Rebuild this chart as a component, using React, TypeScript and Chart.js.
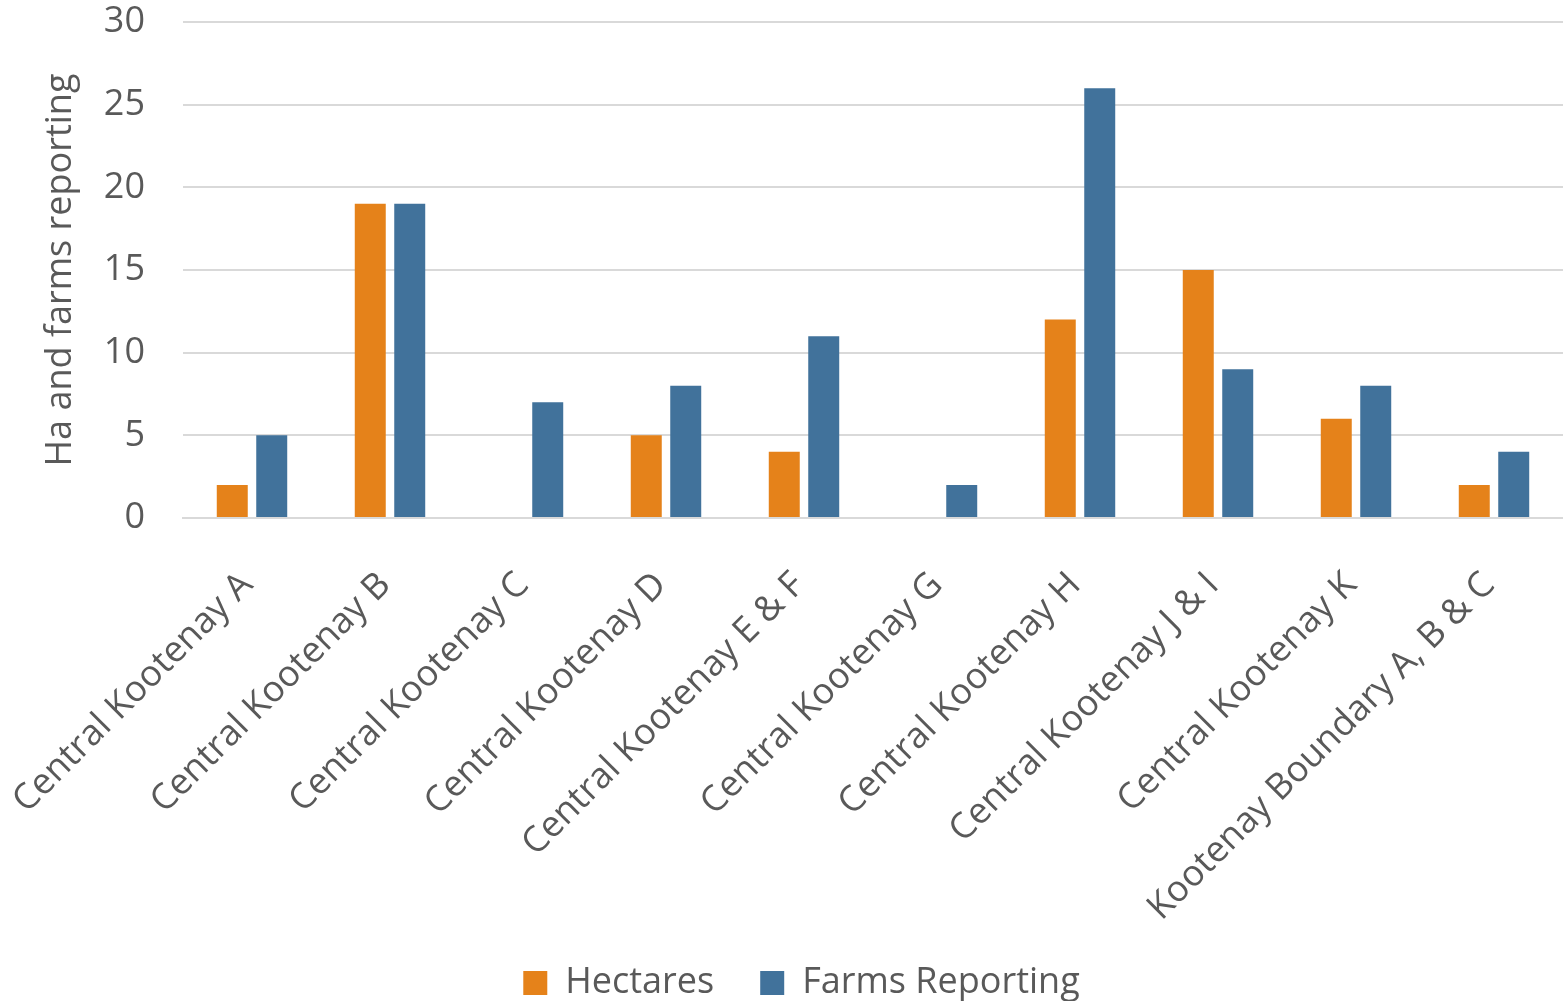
import { useEffect, useRef } from "react";
import { Chart, registerables, type ChartConfiguration, type Plugin } from "chart.js";

Chart.register(...registerables);

// data
const regions = [
  "Central Kootenay A",
  "Central Kootenay B",
  "Central Kootenay C",
  "Central Kootenay D",
  "Central Kootenay E & F",
  "Central Kootenay G",
  "Central Kootenay H",
  "Central Kootenay J & I",
  "Central Kootenay K",
  "Kootenay Boundary A, B & C",
];
const hectares = [2, 19, null, 5, 4, null, 12, 15, 6, 2];
const farmsReporting = [5, 19, 7, 8, 11, 2, 26, 9, 8, 4];
const yMin = 0;
const yMax = 30;
const yStep = 5;

const FONT = "'Open Sans', 'Noto Sans', sans-serif";
const TEXT = "#595959";
const GRID = "#D9D9D9";

// legend sits a bit right of centre in the reference; long x labels must not be clipped
const layoutTweaks: Plugin<"bar"> = {
  id: "layoutTweaks",
  afterLayout(chart) {
    if (chart.legend) chart.legend.left += 40;
    const x = chart.scales.x;
    if (x) x.bottom = chart.height;
  },
};

export default function App() {
  const canvasRef = useRef<HTMLCanvasElement | null>(null);
  const chartRef = useRef<Chart | null>(null);

  useEffect(() => {
    document.body.style.margin = "0";
    if (!canvasRef.current) return;

    const config: ChartConfiguration<"bar"> = {
      type: "bar",
      data: {
        labels: regions,
        datasets: [
          {
            label: "Hectares",
            data: hectares as (number | null)[],
            backgroundColor: "#E5821A",
            categoryPercentage: 0.572,
            barPercentage: 0.785,
          },
          {
            label: "Farms Reporting",
            data: farmsReporting,
            backgroundColor: "#41729B",
            categoryPercentage: 0.572,
            barPercentage: 0.785,
          },
        ],
      },
      plugins: [layoutTweaks],
      options: {
        animation: false,
        responsive: true,
        maintainAspectRatio: false,
        layout: { padding: { top: 22, right: 0, bottom: -10, left: 0 } },
        plugins: {
          tooltip: { enabled: false },
          legend: {
            position: "bottom",
            labels: {
              color: TEXT,
              font: { family: FONT, size: 36 },
              boxWidth: 24,
              boxHeight: 24,
              padding: 46,
            },
          },
        },
        scales: {
          x: {
            afterFit: (scale) => {
              scale.height = 401;
              scale.paddingLeft = 0;
              scale.paddingRight = 0;
            },
            grid: { display: false, drawTicks: false },
            border: { color: GRID, width: 2 },
            ticks: {
              color: TEXT,
              font: { family: FONT, size: 36 },
              minRotation: 45,
              maxRotation: 45,
              padding: 46,
              labelOffset: -5,
              autoSkip: false,
            },
          },
          y: {
            min: yMin,
            max: yMax,
            afterFit: (scale) => {
              scale.width = 183;
              scale.paddingTop = 0;
              scale.paddingBottom = 0;
            },
            grid: { color: GRID, lineWidth: 2, drawTicks: false },
            border: { display: false },
            ticks: {
              stepSize: yStep,
              color: TEXT,
              font: { family: FONT, size: 36 },
              padding: 38,
            },
            title: {
              display: true,
              text: "Ha and farms reporting",
              color: TEXT,
              font: { family: FONT, size: 36 },
              padding: { top: 39, bottom: 0 },
            },
          },
        },
      },
    };

    chartRef.current?.destroy();
    chartRef.current = new Chart(canvasRef.current, config);

    return () => {
      chartRef.current?.destroy();
      chartRef.current = null;
    };
  }, []);

  return (
    <div style={{ position: "relative", width: 1563, height: 1001, background: "#fff" }}>
      <canvas ref={canvasRef} />
    </div>
  );
}
